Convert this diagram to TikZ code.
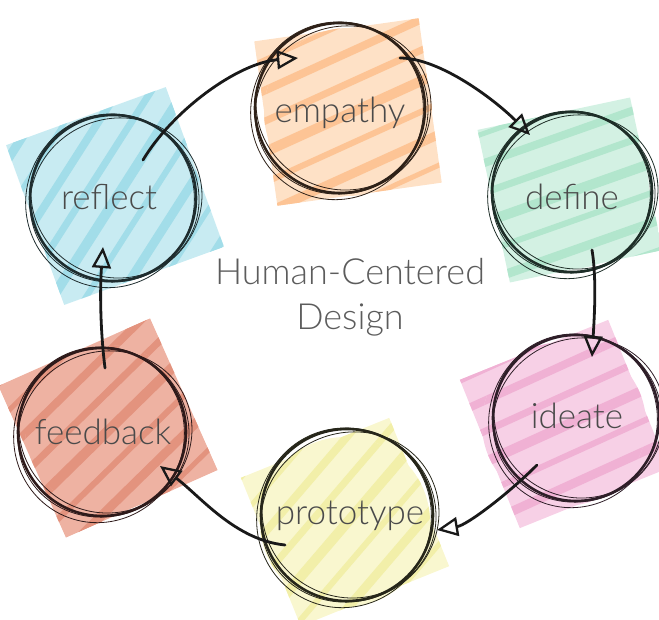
\documentclass[tikz,border=0pt]{standalone}
\usepackage{fontspec}
\IfFontExistsTF{Lato Light}{\setmainfont{Lato Light}}{\setmainfont{Lato}}
\usetikzlibrary{arrows.meta,calc}
\definecolor{txtgray}{HTML}{4A4A4A}
\definecolor{ttlgray}{HTML}{5C5C5C}
\definecolor{empL}{HTML}{FEE1C6}\definecolor{empD}{HTML}{FDC495}\definecolor{empC}{HTML}{2E2118}
\definecolor{defL}{HTML}{D3F1E3}\definecolor{defD}{HTML}{B2E6CD}\definecolor{defC}{HTML}{1E2E28}
\definecolor{ideL}{HTML}{F7D0E6}\definecolor{ideD}{HTML}{F0B1D4}\definecolor{ideC}{HTML}{2E1E28}
\definecolor{proL}{HTML}{F9F7CF}\definecolor{proD}{HTML}{F2EFA9}\definecolor{proC}{HTML}{26261A}
\definecolor{feeL}{HTML}{EEB2A2}\definecolor{feeD}{HTML}{E3937E}\definecolor{feeC}{HTML}{2E1A1A}
\definecolor{refL}{HTML}{C8EBF2}\definecolor{refD}{HTML}{A2DDE9}\definecolor{refC}{HTML}{1E2C2E}
\tikzset{
  lbl/.style={font=\fontsize{35}{40}\selectfont, text=txtgray, inner sep=0pt},
  ttl/.style={font=\fontsize{36}{45}\selectfont, text=ttlgray, align=center, inner sep=0pt},
  flow/.style={line width=2.8pt, black!90, line cap=round,
    -{Triangle[open,length=21pt,width=19pt,line width=2.3pt]}},
  sk/.style={line width=0.8pt, draw=#1},
  skb/.style={line width=2.6pt, draw=#1},
}
% stripes content: stripeangle light dark
\newcommand\stripefill[3]{%
  \fill[#2] (-120,-120) rectangle (120,120);
  \begin{scope}[rotate=#1]
    \foreach \k/\w in {-5/6,-4/9,-3/5,-2/8,-1/7,0/10,1/6,2/9,3/5,4/8,5/7}
      \draw[#3, line width=\w pt] (-200,\k*28) -- (200,\k*28+4);
  \end{scope}}
% x y size rot stripeangle light dark ringradius
\newcommand\hatchsq[8]{%
  \begin{scope}[shift={(#1,#2)}]
    \begin{scope}
      \clip [rotate=#4] (-#3/2,-#3/2) rectangle (#3/2,#3/2);
      \stripefill{#5}{#6}{#7}
    \end{scope}
    \begin{scope}
      \clip (0,0) circle[radius=#8];
      \stripefill{#5}{#6}{#7}
    \end{scope}
  \end{scope}}
% x y r color
\newcommand\sketchring[4]{%
  \draw[sk=#4] (#1+3,#2+2) ellipse[x radius=#3+4, y radius=#3-2, rotate=25];
  \draw[sk=#4] (#1-3,#2+3) ellipse[x radius=#3+1, y radius=#3+4, rotate=-20];
  \draw[sk=#4] (#1+2,#2-2) ellipse[x radius=#3-2, y radius=#3+2, rotate=60];
  \draw[skb=#4] (#1,#2) circle[radius=#3];
}
\begin{document}
\begin{tikzpicture}[x=1pt,y=-1pt]
\useasboundingbox (0,0) rectangle (659,620);
% coloured hatched squares
\hatchsq{348}{112}{166}{8}{25}{empL}{empD}{84}
\hatchsq{570}{190}{156}{12}{20}{defL}{defD}{79}
\hatchsq{564}{424}{160}{22}{25}{ideL}{ideD}{82}
\hatchsq{345}{522}{160}{22}{50}{proL}{proD}{85}
\hatchsq{108}{428}{166}{24}{45}{feeL}{feeD}{83}
\hatchsq{115}{196}{170}{20}{58}{refL}{refD}{82}
% sketched rings
\sketchring{340}{108}{85}{empC}
\sketchring{572}{192}{80}{defC}
\sketchring{576}{418}{83}{ideC}
\sketchring{347}{515}{86}{proC}
\sketchring{102}{432}{84}{feeC}
\sketchring{113}{198}{83}{refC}
% labels
\node[lbl] (empathy)   at (340,113) {empathy};
\node[lbl] (define)    at (572,197) {define};
\node[lbl] (ideate)    at (577,416) {ideate};
\node[lbl] (prototype) at (350,516) {prototype};
\node[lbl] (feedback)  at (103,432) {feedback};
\node[lbl] (reflect)   at (109,197) {reflect};
\node[ttl] (title)     at (350,297) {Human-Centered\\Design};
% connector ends
\coordinate (Eout) at ($(empathy)+(60,-55)$);
\coordinate (Ein)  at ($(empathy)+(-42,-55)$);
\coordinate (Din)  at ($(define)+(-42,-62)$);
\coordinate (Dout) at ($(define)+(20,53)$);
\coordinate (Iin)  at ($(ideate)+(15,-59)$);
\coordinate (Iout) at ($(ideate)+(-40,49)$);
\coordinate (Pin)  at ($(prototype)+(87,14)$);
\coordinate (Pout) at ($(prototype)+(-65,29)$);
\coordinate (Fin)  at ($(feedback)+(57,34)$);
\coordinate (Fout) at ($(feedback)+(2,-64)$);
\coordinate (Rin)  at ($(reflect)+(-6,50)$);
\coordinate (Rout) at ($(reflect)+(34,-37)$);
% connectors
\draw[flow] (Rout) .. controls +(30,-50) and +(-60,5) .. (Ein);
\draw[flow] (Eout) .. controls +(40,0) and +(-35,-35) .. (Din);
\draw[flow] (Dout) .. controls +(5,30) and +(2,-35) .. (Iin);
\draw[flow] (Iout) .. controls +(-30,30) and +(30,-5) .. (Pin);
\draw[flow] (Pout) .. controls +(-50,-5) and +(40,30) .. (Fin);
\draw[flow] (Fout) .. controls +(-5,-40) and +(-3,40) .. (Rin);
\end{tikzpicture}
\end{document}
